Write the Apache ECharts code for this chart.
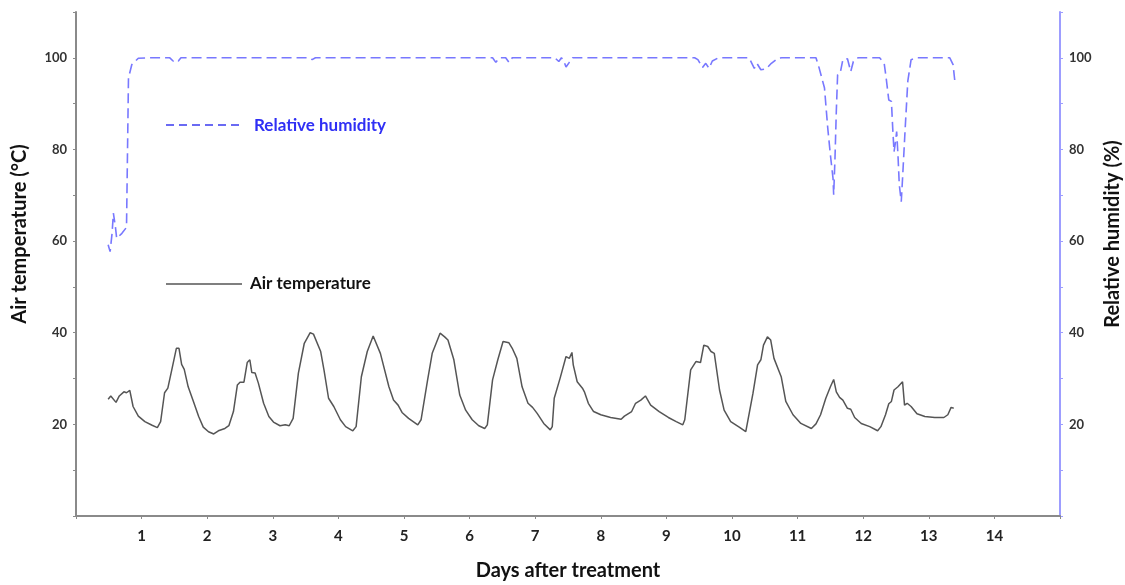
<!DOCTYPE html>
<html>
<head>
<meta charset="utf-8">
<script src="https://cdn.jsdelivr.net/npm/echarts@6/dist/echarts.min.js"></script>
<style>html,body{margin:0;padding:0;background:#fff}#c{width:1125px;height:585px}</style>
</head>
<body>
<div id="c"></div>
<script>
const xTicks = [1,2,3,4,5,6,7,8,9,10,11,12,13,14];
const yTicks = [20,40,60,80,100];
const seriesNames = ['Relative humidity', 'Air temperature'];

const tempDays = [0.49,0.53,0.61,0.66,0.73,0.77,0.82,0.87,0.95,1.05,1.16,1.24,1.29,1.35,1.40,1.46,1.53,1.57,1.61,1.65,1.71,1.79,1.87,1.94,2.02,2.10,2.17,2.27,2.33,2.40,2.46,2.50,2.56,2.61,2.65,2.68,2.73,2.78,2.86,2.94,3.01,3.11,3.19,3.25,3.31,3.39,3.48,3.57,3.62,3.73,3.78,3.85,3.93,4.03,4.11,4.22,4.27,4.35,4.44,4.53,4.56,4.64,4.77,4.84,4.91,4.97,5.07,5.21,5.26,5.36,5.43,5.55,5.62,5.67,5.76,5.85,5.94,6.04,6.14,6.23,6.27,6.35,6.43,6.51,6.60,6.65,6.72,6.80,6.89,6.96,7.03,7.13,7.23,7.26,7.29,7.38,7.47,7.49,7.52,7.56,7.58,7.64,7.72,7.75,7.81,7.89,8.00,8.15,8.31,8.36,8.47,8.53,8.61,8.68,8.76,8.89,9.03,9.15,9.25,9.28,9.37,9.45,9.52,9.57,9.63,9.68,9.73,9.81,9.88,9.98,10.11,10.21,10.24,10.32,10.39,10.44,10.48,10.54,10.59,10.64,10.67,10.75,10.82,10.93,11.05,11.21,11.28,11.35,11.38,11.43,11.50,11.55,11.59,11.64,11.69,11.76,11.81,11.87,11.97,12.10,12.22,12.27,12.34,12.39,12.43,12.47,12.53,12.60,12.63,12.67,12.73,12.82,12.94,13.09,13.23,13.29,13.34,13.38];
const tempVals = [25.5,26.2,24.8,26.2,27.1,26.9,27.4,23.9,21.8,20.6,19.8,19.3,20.6,26.9,27.9,31.9,36.6,36.6,33.1,32.0,28.2,25.0,21.7,19.4,18.4,17.9,18.6,19.1,19.7,22.8,28.6,29.2,29.2,33.5,34.1,31.3,31.2,29.0,24.6,21.7,20.5,19.7,19.9,19.7,21.3,31.2,37.7,40.0,39.7,35.9,31.9,25.7,23.9,21.0,19.5,18.6,19.5,30.4,35.9,39.3,39.3,35.5,28.2,25.3,24.2,22.6,21.3,19.9,21.0,29.7,35.5,39.9,39.1,38.4,34.1,26.4,23.1,21.0,19.7,19.1,19.9,29.7,34.1,38.1,37.8,36.6,34.4,28.2,24.6,23.7,22.4,20.2,18.8,19.5,25.7,30.1,34.8,35.2,34.4,35.7,33.0,29.3,27.9,27.1,24.6,22.8,22.1,21.5,21.1,21.8,22.8,24.6,25.3,26.2,24.2,22.8,21.5,20.6,19.9,21.0,31.9,33.7,33.5,37.3,37.0,35.9,35.5,27.5,23.1,20.6,19.4,18.4,18.8,26.8,33.0,34.1,37.3,39.1,38.4,34.4,34.8,30.4,25.0,22.1,20.2,19.1,20.1,22.1,22.4,25.7,28.2,29.8,27.1,25.9,25.3,23.5,23.3,21.5,20.2,19.5,18.6,19.5,22.1,24.5,25.0,27.5,28.2,29.3,24.2,24.6,23.9,22.3,21.7,21.5,21.5,22.1,23.7,23.5];

const rhDays = [0.49,0.52,0.55,0.57,0.60,0.62,0.70,0.77,0.80,0.85,0.95,1.10,1.43,1.48,1.52,1.56,1.60,3.55,3.60,3.65,6.35,6.40,6.45,6.55,6.60,6.65,7.30,7.36,7.40,7.43,7.47,7.52,7.57,9.43,9.48,9.55,9.60,9.65,9.70,9.78,9.83,10.26,10.34,10.38,10.44,10.52,10.60,10.70,10.76,11.28,11.33,11.41,11.46,11.50,11.54,11.55,11.57,11.59,11.61,11.65,11.69,11.76,11.81,11.85,11.92,12.25,12.32,12.35,12.39,12.43,12.45,12.47,12.49,12.51,12.53,12.55,12.58,12.60,12.64,12.68,12.73,12.81,13.32,13.37,13.40];
const rhVals = [59.2,57.7,61.7,66.1,63.2,60.6,61.7,63.0,95.6,98.5,99.9,100,100,99.3,99.6,99.3,100,100,99.6,100,100,99.0,100,100,99.0,100,100,99.2,100,99.5,98.0,99.0,100,100,99.6,97.9,98.8,97.7,99.3,99.9,100,100,97.7,98.8,97.4,97.6,98.8,99.9,100,100,97.7,93.4,84.6,78.8,73.7,70.1,78.1,88.3,96.3,96.7,99.6,99.8,97.0,99.2,100,100,98.8,95.6,90.8,90.5,84.6,79.5,81.4,83.9,78.8,72.3,68.6,73.7,84.6,94.9,99.6,100,100,98.5,94.5];

const tempData = tempDays.map((d,i)=>[d,tempVals[i]]);
const rhData = rhDays.map((d,i)=>[d,rhVals[i]]);

const FONT = 'Lato';
const chart = echarts.init(document.getElementById('c'), null, {renderer:'canvas'});
const yAxisCommon = {
  type:'value', min:0, max:110, interval:10,
  splitLine:{show:false},
  axisLabel:{
    fontFamily:FONT, fontWeight:'bold', fontSize:13, color:'#333', margin:9,
    formatter:v=> yTicks.indexOf(v)>=0 ? String(v) : ''
  },
  nameLocation:'middle'
};
chart.setOption({
  animation:false,
  backgroundColor:'#fff',
  grid:{left:76, right:65, top:12, bottom:69, containLabel:false, outerBoundsMode:'none'},
  graphic:[
    {type:'line', shape:{x1:166,y1:125,x2:242,y2:125}, style:{stroke:'#3a3af0', lineWidth:1.5, lineDash:[8,5]}},
    {type:'text', x:254, y:126, style:{text:seriesNames[0], fill:'#2f2ff5', font:'bold 17px Lato', verticalAlign:'middle'}},
    {type:'line', shape:{x1:166,y1:284,x2:242,y2:284}, style:{stroke:'#000', lineWidth:1.2}},
    {type:'text', x:250, y:284, style:{text:seriesNames[1], fill:'#111', font:'bold 17px Lato', verticalAlign:'middle'}}
  ],
  xAxis:{
    type:'value', min:0, max:15, interval:1,
    name:'Days after treatment', nameLocation:'middle', nameGap:45,
    nameTextStyle:{fontFamily:FONT, fontWeight:'bold', fontSize:20, color:'#111'},
    axisLine:{lineStyle:{color:'#8a8a8a', width:2}},
    axisTick:{length:3, lineStyle:{color:'#8a8a8a'}},
    splitLine:{show:false},
    axisLabel:{fontFamily:FONT, fontWeight:'bold', fontSize:15, color:'#222', margin:13,
      formatter:v=> xTicks.indexOf(v)>=0 ? String(v) : ''}
  },
  yAxis:[
    Object.assign({}, yAxisCommon, {
      position:'left', name:'Air temperature (°C)', nameGap:46,
      nameTextStyle:{fontFamily:FONT, fontWeight:'bold', fontSize:20, color:'#111', padding:[0,0,0,60]},
      axisLine:{show:true, lineStyle:{color:'#8a8a8a', width:2}},
      axisTick:{show:true, length:3, lineStyle:{color:'#8a8a8a'}}
    }),
    Object.assign({}, yAxisCommon, {
      position:'right', name:'Relative humidity (%)', nameGap:42,
      nameTextStyle:{fontFamily:FONT, fontWeight:'bold', fontSize:20, color:'#111', padding:[0,0,0,60]},
      axisLine:{show:true, lineStyle:{color:'#9d9dff', width:2}},
      axisTick:{show:true, length:3, lineStyle:{color:'#9d9dff'}}
    })
  ],
  series:[
    {name:seriesNames[0], type:'line', yAxisIndex:1, data:rhData, symbol:'none',
     lineStyle:{color:'#7878ff', width:1.6, type:[10,5]}, z:2},
    {name:seriesNames[1], type:'line', yAxisIndex:0, data:tempData, symbol:'none',
     lineStyle:{color:'#555', width:1.5}, z:3}
  ]
});
</script>
</body>
</html>
